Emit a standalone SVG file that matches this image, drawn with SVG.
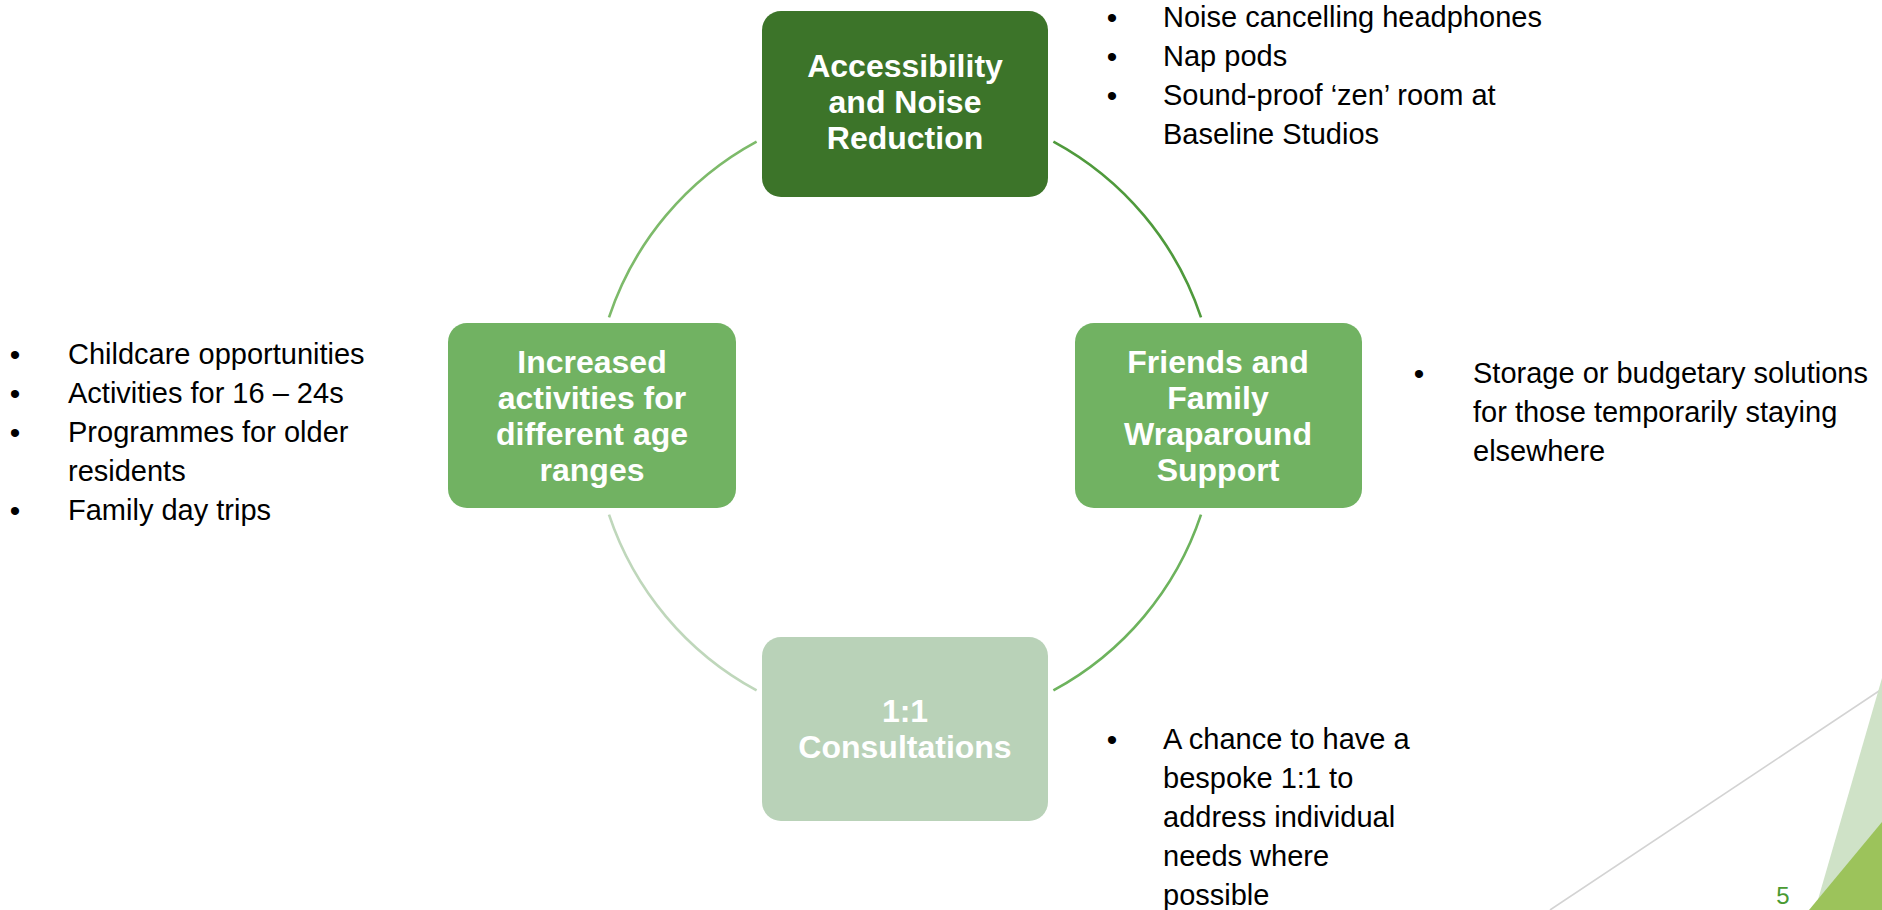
<svg xmlns="http://www.w3.org/2000/svg" width="1882" height="910" viewBox="0 0 1882 910">
<style>
.node-label{font-family:"Liberation Sans",Arial,sans-serif;font-weight:bold;font-size:32px;fill:#ffffff;text-anchor:middle}
.txt{font-family:"Liberation Sans",Arial,sans-serif;font-size:29px;fill:#000000}
.bul{font-family:"Liberation Sans",Arial,sans-serif;font-size:30px;fill:#000000;text-anchor:middle}
.arc{fill:none;stroke-width:2.6}
</style>
<rect width="1882" height="910" fill="#ffffff"/>
<g id="decor">
<line x1="1882" y1="689" x2="1550" y2="910" stroke="#d3d3d3" stroke-width="1.6"/>
<polygon points="1882,678 1815,910 1882,910" fill="#cfe2c7"/>
<polygon points="1809,910 1882,822 1882,910" fill="#9cc35b"/>
<text x="1783" y="904" font-family="'Liberation Sans',Arial,sans-serif" font-size="24" fill="#4a9a32" text-anchor="middle">5</text>
</g>
<g id="connectors">
<path class="arc" stroke="#4f9a3c" d="M1053.4,141.6 A312,312 0 0,1 1201,317.3"/>
<path class="arc" stroke="#6db35d" d="M1201,514.7 A312,312 0 0,1 1053.4,690.4"/>
<path class="arc" stroke="#bfd7bb" d="M756.6,690.4 A312,312 0 0,1 609,514.7"/>
<path class="arc" stroke="#7dba6a" d="M609,317.3 A312,312 0 0,1 756.6,141.6"/>
</g>
<g id="node-accessibility">
<rect x="762" y="11" width="286" height="186" rx="19" fill="#3c7429"/>
<text class="node-label" x="905" y="77">Accessibility</text>
<text class="node-label" x="905" y="113">and Noise</text>
<text class="node-label" x="905" y="149">Reduction</text>
</g>
<g id="node-friends">
<rect x="1075" y="323" width="287" height="185" rx="19" fill="#71b262"/>
<text class="node-label" x="1218" y="373">Friends and</text>
<text class="node-label" x="1218" y="409">Family</text>
<text class="node-label" x="1218" y="445">Wraparound</text>
<text class="node-label" x="1218" y="481">Support</text>
</g>
<g id="node-consultations">
<rect x="762" y="637" width="286" height="184" rx="19" fill="#b9d2b8"/>
<text class="node-label" x="905" y="722">1:1</text>
<text class="node-label" x="905" y="758">Consultations</text>
</g>
<g id="node-activities">
<rect x="448" y="323" width="288" height="185" rx="19" fill="#71b262"/>
<text class="node-label" x="592" y="373">Increased</text>
<text class="node-label" x="592" y="409">activities for</text>
<text class="node-label" x="592" y="445">different age</text>
<text class="node-label" x="592" y="481">ranges</text>
</g>
<g id="list-top">
<text class="bul" x="1112" y="28">•</text>
<text class="txt" x="1163" y="27">Noise cancelling headphones</text>
<text class="bul" x="1112" y="67">•</text>
<text class="txt" x="1163" y="66">Nap pods</text>
<text class="bul" x="1112" y="106">•</text>
<text class="txt" x="1163" y="105">Sound-proof ‘zen’ room at</text>
<text class="txt" x="1163" y="144">Baseline Studios</text>
</g>
<g id="list-left">
<text class="bul" x="15" y="365">•</text>
<text class="txt" x="68" y="364">Childcare opportunities</text>
<text class="bul" x="15" y="404">•</text>
<text class="txt" x="68" y="403">Activities for 16 – 24s</text>
<text class="bul" x="15" y="443">•</text>
<text class="txt" x="68" y="442">Programmes for older</text>
<text class="txt" x="68" y="481">residents</text>
<text class="bul" x="15" y="521">•</text>
<text class="txt" x="68" y="520">Family day trips</text>
</g>
<g id="list-right">
<text class="bul" x="1419" y="384">•</text>
<text class="txt" x="1473" y="383">Storage or budgetary solutions</text>
<text class="txt" x="1473" y="422">for those temporarily staying</text>
<text class="txt" x="1473" y="461">elsewhere</text>
</g>
<g id="list-bottom">
<text class="bul" x="1112" y="750">•</text>
<text class="txt" x="1163" y="749">A chance to have a</text>
<text class="txt" x="1163" y="788">bespoke 1:1 to</text>
<text class="txt" x="1163" y="827">address individual</text>
<text class="txt" x="1163" y="866">needs where</text>
<text class="txt" x="1163" y="905">possible</text>
</g>
</svg>
